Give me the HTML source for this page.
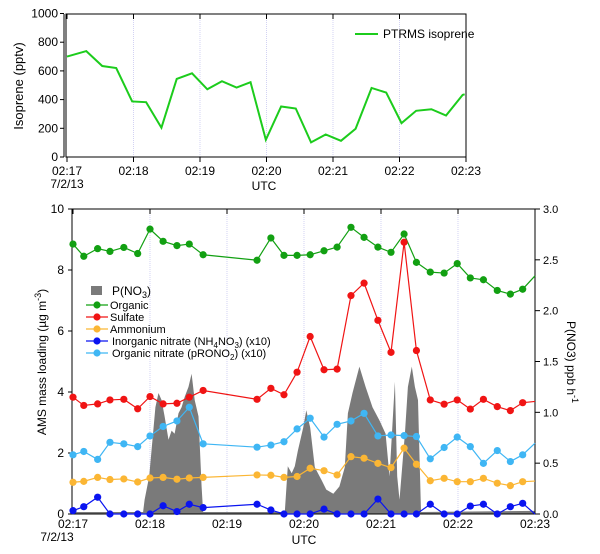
<!DOCTYPE html>
<html><head><meta charset="utf-8"><style>
html,body{margin:0;padding:0;background:#fff;}
svg{display:block;font-family:"Liberation Sans",Arial,sans-serif;}
</style></head><body>
<svg id="c" width="600" height="554" viewBox="0 0 600 554" xmlns="http://www.w3.org/2000/svg"></svg>
<script>
// ---- data ----
const isoTimes=[0,0.29,0.53,0.74,0.98,1.19,1.42,1.65,1.88,2.11,2.33,2.55,2.76,2.99,3.22,3.44,3.67,3.89,4.12,4.34,4.58,4.80,5.03,5.25,5.48,5.70,5.95,5.98];
const isoValues=[700,738,634,620,387,382,204,544,583,472,528,484,521,120,352,338,102,157,113,197,481,449,236,322,333,289,433,437];
const amsTimes=[0,0.14,0.32,0.48,0.66,0.84,1.0,1.17,1.35,1.51,1.69,2.39,2.57,2.74,2.91,3.08,3.26,3.43,3.61,3.78,3.96,4.13,4.30,4.46,4.64,4.82,4.99,5.16,5.33,5.51,5.68,5.84,6.0];
const organic=[8.85,8.45,8.70,8.61,8.74,8.54,9.34,8.94,8.80,8.85,8.50,8.32,9.05,8.48,8.48,8.50,8.63,8.75,9.40,9.07,8.75,8.58,9.18,8.25,7.93,7.90,8.21,7.74,7.68,7.33,7.21,7.37,7.81];
const sulfate=[3.83,3.56,3.61,3.74,3.76,3.45,3.85,3.61,3.63,3.83,4.05,3.76,4.12,3.91,4.65,5.82,4.73,4.75,7.16,7.57,6.35,5.30,8.91,5.36,3.74,3.60,3.74,3.44,3.76,3.52,3.39,3.65,3.69];
const ammonium=[1.04,1.07,1.20,1.13,1.15,1.05,1.18,1.20,1.14,1.18,1.20,1.28,1.27,1.20,1.23,1.50,1.42,1.28,1.88,1.83,1.66,1.52,2.16,1.63,1.09,1.17,1.06,1.06,1.17,1.01,0.93,1.06,1.08];
const inorgNitrate=[0.11,0.24,0.55,0,0,0,0,0.27,0.08,0.32,0.21,0.32,0.13,0,0,0,0.16,0,0,0,0.49,0,0,0,0.32,0,0,0.26,0.32,0,0.24,0.35,0];
const orgNitrate=[1.94,2.05,1.79,2.35,2.30,2.21,2.56,2.87,3.05,3.50,2.30,2.19,2.26,2.37,2.79,3.14,2.52,2.94,3.05,3.30,2.56,2.59,2.57,2.54,1.81,2.18,2.52,2.21,1.66,2.08,1.72,1.94,2.32];
const pno3Times=[0,0.91,0.93,0.99,1.07,1.11,1.15,1.19,1.24,1.28,1.32,1.37,1.41,1.45,1.50,1.54,1.58,1.63,1.67,1.69,2.75,2.79,2.84,2.88,2.92,2.99,3.03,3.08,3.14,3.23,3.29,3.38,3.46,3.53,3.57,3.63,3.72,3.80,3.89,3.98,4.06,4.11,4.18,4.21,4.24,4.31,4.35,4.40,4.44,4.48,4.52,6.0];
const pno3Values=[0.02,0.02,0.14,0.37,1.05,1.19,1.12,0.96,0.73,0.82,0.79,0.99,1.05,1.15,1.25,1.38,1.12,0.96,0.27,0.02,0.02,0.47,0.40,0.47,0.62,0.85,1.02,0.85,0.46,0.33,0.24,0.20,0.27,0.46,0.99,1.19,1.45,1.25,1.05,0.92,0.79,0.37,1.30,0.37,0.14,0.79,1.25,1.45,1.25,1.12,0.02,0.03];
const timeLabels=["02:17","02:18","02:19","02:20","02:21","02:22","02:23"];
const isoTicks=[0,200,400,600,800,1000];
const leftTicks=[0,2,4,6,8,10];
const rightTicks=["0.0","0.5","1.0","1.5","2.0","2.5","3.0"];

// ---- helpers ----
const NS="http://www.w3.org/2000/svg";
const svg=document.getElementById('c');
function mk(tag,attrs,parent,txt){const e=document.createElementNS(NS,tag);for(const k in attrs)e.setAttribute(k,attrs[k]);if(txt!==undefined)e.textContent=txt;(parent||svg).appendChild(e);return e;}
const tx=m=>67+m*66.5, ty=v=>157-v*0.1435;
const bx=m=>73+m*77, by=v=>514-v*30.5, ry=v=>514-v*101.67;

// ===== TOP CHART =====
const topG=mk('g',{});


for(let i=1;i<6;i++){const g=mk('line',{x1:tx(i),x2:tx(i),y1:14,y2:157,stroke:'#c8c8f0','stroke-width':0.8,'stroke-dasharray':'1,1'},topG);

}
const tf=mk('rect',{x:66,y:14,width:400,height:143,fill:'none',stroke:'#000','stroke-width':1},topG);


mk('line',{x1:64,x2:64,y1:14,y2:157,stroke:'#000','stroke-width':1},topG);
isoTicks.forEach(v=>{mk('line',{x1:60,x2:64,y1:ty(v),y2:ty(v),stroke:'#000'},topG);
const t=mk('text',{x:58,y:ty(v)+4,'font-size':12,'text-anchor':'end'},topG,String(v));

});
timeLabels.forEach((l,i)=>{mk('line',{x1:tx(i),x2:tx(i),y1:157,y2:162,stroke:'#000'},topG);mk('line',{x1:tx(i),x2:tx(i),y1:14,y2:19,stroke:'#000'},topG);
const t=mk('text',{x:tx(i),y:175,'font-size':12,'text-anchor':'middle'},topG,l);

});
let t1=mk('text',{x:67,y:188,'font-size':12,'text-anchor':'middle'},topG,'7/2/13');


t1=mk('text',{x:264,y:190,'font-size':12,'text-anchor':'middle'},topG,'UTC');


t1=mk('text',{x:0,y:0,'font-size':13,'text-anchor':'middle',transform:'translate(23,86) rotate(-90)'},topG,'Isoprene (pptv)');


let iso=mk('polyline',{points:isoTimes.map((m,i)=>tx(m)+','+ty(isoValues[i])).join(' '),fill:'none',stroke:'#1ccc1c','stroke-width':2},topG);


let lg=mk('line',{x1:355,x2:378,y1:34,y2:34,stroke:'#1ccc1c','stroke-width':2},topG);


t1=mk('text',{x:383,y:38,'font-size':12},topG,'PTRMS isoprene');



// ===== BOTTOM CHART =====
const bot=mk('g',{});


for(let i=1;i<6;i++){const g=mk('line',{x1:bx(i),x2:bx(i),y1:209,y2:514,stroke:'#c8c8f0','stroke-width':0.8,'stroke-dasharray':'1,1'},bot);

}
let ap='M'+bx(pno3Times[0])+','+ry(0);
pno3Times.forEach((m,i)=>{ap+=' L'+bx(m).toFixed(1)+','+ry(pno3Values[i]).toFixed(1);});
ap+=' L'+bx(pno3Times[pno3Times.length-1])+','+ry(0)+' Z';
let ar=mk('path',{d:ap,fill:'#7a7a7a',stroke:'none'},bot);


const bf=mk('rect',{x:72,y:209,width:463,height:305,fill:'none',stroke:'#000','stroke-width':1},bot);


leftTicks.forEach(v=>{mk('line',{x1:68,x2:72,y1:by(v),y2:by(v),stroke:'#000'},bot);
const t=mk('text',{x:64,y:by(v)+4,'font-size':12,'text-anchor':'end'},bot,String(v));

});
rightTicks.forEach((l,i)=>{const y=ry(i*0.5);mk('line',{x1:535,x2:540,y1:y,y2:y,stroke:'#000'},bot);
const t=mk('text',{x:543,y:y+4,'font-size':11},bot,l);

});
timeLabels.forEach((l,i)=>{mk('line',{x1:bx(i),x2:bx(i),y1:209,y2:214,stroke:'#000'},bot);
const t=mk('text',{x:bx(i),y:528,'font-size':12,'text-anchor':'middle'},bot,l);

});
t1=mk('text',{x:57,y:541,'font-size':12,'text-anchor':'middle'},bot,'7/2/13');


t1=mk('text',{x:304,y:544,'font-size':12,'text-anchor':'middle'},bot,'UTC');


t1=mk('text',{x:0,y:0,'font-size':12,'text-anchor':'middle',transform:'translate(46,362) rotate(-90)'},bot);
t1.innerHTML='AMS mass loading (µg m<tspan dy="-5" font-size="9">-3</tspan><tspan dy="5">)</tspan>';


t1=mk('text',{x:0,y:0,'font-size':12,'text-anchor':'middle',transform:'translate(567,362) rotate(90)'},bot);
t1.innerHTML='P(NO3) ppb h<tspan dy="-5" font-size="9">-1</tspan>';



const seriesList=[[organic,'#12a012','organic'],[sulfate,'#f01414','sulfate'],[ammonium,'#fbb634','ammonium'],[inorgNitrate,'#0a14f0','inorganic-nitrate'],[orgNitrate,'#3fb6f4','organic-nitrate']];
seriesList.forEach(([vals,col,name])=>{
  const g=mk('g',{},bot);
  
  
  const pl=mk('polyline',{points:amsTimes.map((m,i)=>bx(m)+','+by(vals[i])).join(' '),fill:'none',stroke:col,'stroke-width':1.2},g);
  
  
  amsTimes.forEach((m,i)=>{if(m>=6)return;const c=mk('circle',{cx:bx(m),cy:by(vals[i]),r:3.6,fill:col},g);
  
  });
});
const leg=mk('g',{},bot);


let sw=mk('rect',{x:91,y:286,width:11,height:9,fill:'#7a7a7a'},leg);


t1=mk('text',{x:112,y:295,'font-size':12},leg);t1.innerHTML='P(NO<tspan dy="3" font-size="9">3</tspan><tspan dy="-3">)</tspan>';


const legLabels=['Organic','Sulfate','Ammonium','Inorganic nitrate (NH<tspan dy="3" font-size="8">4</tspan><tspan dy="-3">NO</tspan><tspan dy="3" font-size="8">3</tspan><tspan dy="-3">) (x10)</tspan>','Organic nitrate (pRONO<tspan dy="3" font-size="8">2</tspan><tspan dy="-3">) (x10)</tspan>'];
seriesList.forEach(([v,col,name],i)=>{const y=305+i*12;
  const l=mk('line',{x1:86,x2:108,y1:y,y2:y,stroke:col,'stroke-width':1.2},leg);
  
  
  mk('circle',{cx:97,cy:y,r:3.6,fill:col},leg);
  const t=mk('text',{x:i>=3?112:110,y:y+4,'font-size':11},leg);t.innerHTML=legLabels[i];
  
  });
</script>
</body></html>
